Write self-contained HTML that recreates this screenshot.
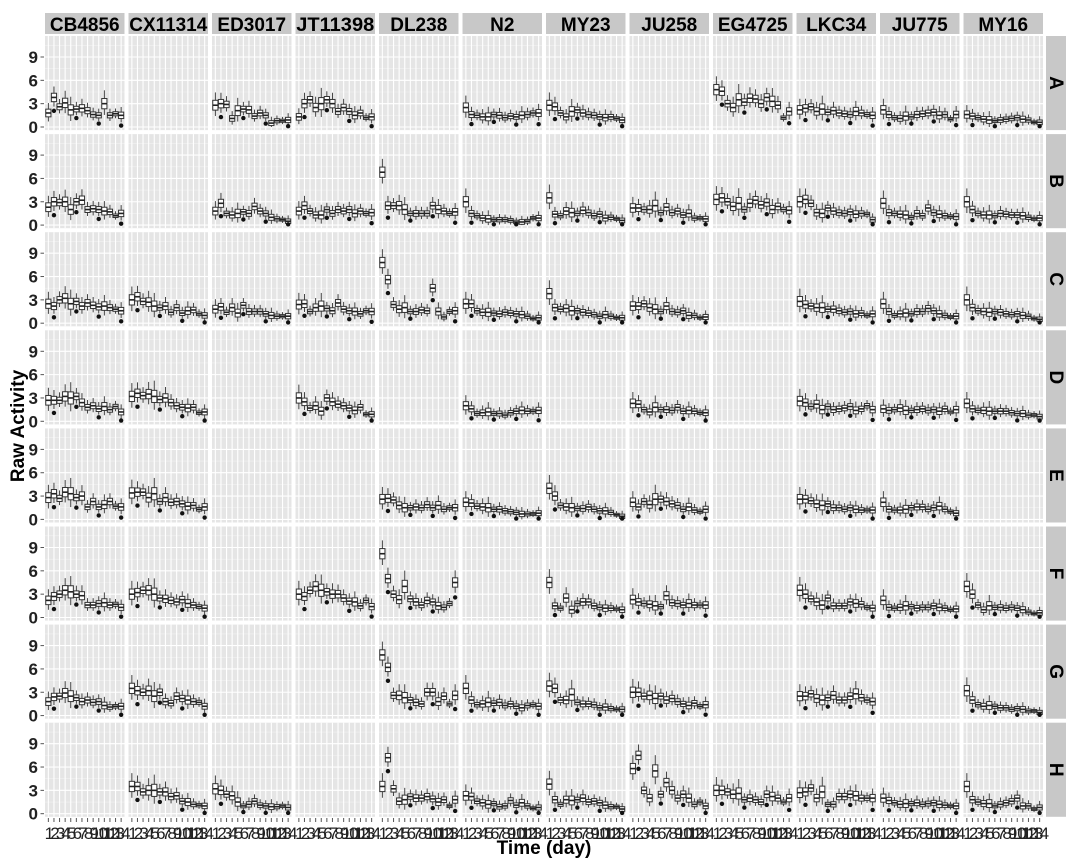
<!DOCTYPE html>
<html><head><meta charset="utf-8">
<style>
html,body{margin:0;padding:0;background:#fff;}
svg{display:block;font-family:"Liberation Sans",Arial,sans-serif;}
</style></head>
<body>
<svg id="chart" width="1080" height="864" viewBox="0 0 1080 864" xmlns="http://www.w3.org/2000/svg">
<text x="544" y="854" font-size="19" font-weight="bold" text-anchor="middle">Time (day)</text>
<text x="24" y="426" font-size="19" font-weight="bold" text-anchor="middle" transform="rotate(-90 24 426)">Raw Activity</text>
</svg>
<script>
const strains = ["CB4856","CX11314","ED3017","JT11398","DL238","N2","MY23","JU258","EG4725","LKC34","JU775","MY16"];
const rowsLab = ["A","B","C","D","E","F","G","H"];
const days = [1,2,3,4,5,6,7,8,9,10,11,12,13,14];
const yTicks = [0,3,6,9];
const medA = {CB4856:[1.8,3.8,2.6,3.1,2.2,2.3,2.4,2.1,1.6,1.5,3.0,1.5,1.7,1.5],ED3017:[2.8,3.0,2.9,1.1,2.1,2.3,2.2,1.4,1.8,1.5,0.5,0.8,0.8,0.9],JT11398:[1.3,3.0,3.5,2.5,3.0,3.5,3.0,2.0,2.5,2.0,1.5,1.8,1.2,1.3],N2:[2.5,1.6,1.5,1.3,1.3,1.6,1.5,1.2,1.4,1.3,1.5,1.6,1.8,1.8],MY23:[2.8,2.6,1.8,1.3,2.0,2.2,1.8,1.6,1.5,1.3,1.2,1.3,1.1,0.9],EG4725:[4.8,4.6,3.0,2.5,3.5,3.2,3.7,3.6,3.0,3.8,3.3,2.8,1.2,2.0],LKC34:[2.2,2.4,2.6,2.0,2.3,1.9,2.1,1.8,1.7,1.6,2.0,1.8,1.6,1.5],JU775:[2.2,1.6,1.2,1.1,1.4,1.3,1.6,1.7,1.8,1.9,1.5,1.6,1.0,1.6],MY16:[1.6,1.4,1.2,1.0,0.9,0.8,0.9,1.0,1.1,1.2,1.0,0.9,0.6,0.6]};
const medB = {CB4856:[2.3,3.0,2.9,3.0,2.0,3.0,3.2,2.0,2.1,2.0,1.8,1.7,1.2,1.5],ED3017:[1.8,2.8,1.5,1.3,1.5,1.7,1.5,2.4,1.8,1.5,1.0,0.8,0.7,0.5],JT11398:[1.8,2.5,1.8,1.3,1.3,2.0,1.5,2.0,1.8,2.0,1.5,1.8,1.5,1.6],DL238:[6.8,2.5,2.5,2.5,2.0,1.5,1.5,1.5,1.5,2.5,2.0,1.8,1.5,1.7],N2:[3.0,1.5,1.2,0.9,0.8,0.7,0.7,0.7,0.6,0.4,0.4,0.5,0.9,0.9],MY23:[3.5,1.4,1.2,1.8,1.6,1.5,1.9,1.6,1.2,1.4,0.9,1.0,0.8,0.6],JU258:[2.2,2.2,2.0,2.0,2.5,1.6,2.3,1.6,1.8,1.3,1.5,0.9,0.9,0.8],EG4725:[3.3,3.5,3.0,2.4,2.8,2.0,2.8,3.2,2.6,2.9,2.0,2.4,2.0,1.9],LKC34:[3.0,3.3,2.8,1.6,1.5,2.2,1.8,1.6,1.5,1.7,1.4,1.5,1.4,0.7],JU775:[2.8,1.6,1.5,1.4,1.3,1.0,1.5,1.2,2.2,1.6,1.4,1.2,1.1,1.1],MY16:[3.0,2.0,1.5,1.3,1.3,1.2,1.5,1.4,1.3,1.3,1.2,1.0,0.8,0.9]};
const medC = {CB4856:[2.5,2.2,3.0,3.2,2.5,2.8,2.2,2.6,2.3,2.1,2.2,2.0,1.8,1.6],CX11314:[3.0,3.4,2.8,2.7,2.2,2.0,2.2,1.4,2.0,1.3,1.6,1.7,1.2,1.0],ED3017:[1.8,2.1,1.4,2.0,1.3,2.3,1.5,1.5,1.5,1.2,1.0,0.9,0.9,0.9],JT11398:[2.4,2.5,1.5,2.0,2.2,1.9,1.6,2.6,1.8,1.6,1.5,1.2,1.6,1.5],DL238:[7.8,5.6,2.4,1.8,2.0,1.5,1.5,1.7,1.6,4.5,1.5,0.8,1.5,1.6],N2:[2.5,2.5,1.6,1.4,1.4,1.3,1.2,1.4,1.3,1.2,1.1,0.9,0.6,0.7],MY23:[3.8,2.0,1.8,1.9,1.6,1.6,1.4,1.3,1.1,0.9,1.1,0.9,0.7,0.7],JU258:[2.2,2.2,2.5,2.0,1.8,1.5,2.2,1.5,1.4,1.6,1.0,1.0,0.7,0.8],LKC34:[2.8,2.4,2.2,2.0,2.0,1.8,1.8,1.6,1.4,1.5,1.2,1.3,1.0,1.2],JU775:[2.5,1.5,1.0,1.2,1.3,1.2,1.5,1.5,1.9,1.6,1.2,1.0,0.8,0.9],MY16:[3.0,2.0,1.6,1.5,1.4,1.5,1.4,1.2,1.1,1.2,1.0,0.9,0.6,0.5]};
const medD = {CB4856:[2.7,2.7,2.7,3.2,3.0,3.2,2.4,1.8,2.0,1.6,1.9,1.5,1.9,1.2],CX11314:[3.2,3.6,3.3,3.5,3.2,2.8,3.0,2.4,2.0,1.8,1.7,1.8,1.1,1.2],JT11398:[3.0,2.5,1.7,2.0,1.3,3.0,2.5,2.2,2.0,1.7,1.4,1.8,0.9,0.9],N2:[2.0,1.6,1.0,1.1,1.2,1.0,1.0,0.8,1.1,1.3,1.4,1.3,1.3,1.4],JU258:[2.3,2.2,1.5,1.2,1.8,1.5,1.5,1.4,1.8,1.3,1.4,1.3,1.1,1.1],LKC34:[2.6,2.4,1.9,2.2,1.5,1.9,1.5,1.6,1.7,1.9,1.4,1.6,2.0,1.5],JU775:[1.6,1.4,1.5,1.7,1.4,1.4,1.5,1.6,1.4,1.5,1.3,1.6,1.2,1.5],MY16:[2.3,1.6,1.4,1.4,1.3,1.3,1.3,1.3,1.1,1.0,1.0,0.8,0.8,0.6]};
const medE = {CB4856:[2.8,3.3,2.7,3.5,3.3,2.8,3.0,1.6,2.3,1.6,1.9,2.3,1.7,1.6],CX11314:[3.4,3.5,3.5,2.8,3.3,2.3,2.8,2.2,2.3,2.0,1.7,1.8,1.3,1.6],DL238:[2.6,2.7,2.5,1.8,1.5,1.5,1.6,1.5,1.9,1.5,1.8,1.3,1.5,1.5],N2:[2.2,2.1,1.7,1.6,1.5,1.3,1.3,1.1,1.0,0.9,0.7,0.7,0.7,0.8],MY23:[4.0,3.0,1.8,1.6,1.5,1.4,1.4,1.6,1.3,1.1,1.1,0.9,0.6,0.4],JU258:[2.2,1.6,2.3,1.9,2.6,2.6,2.3,2.0,1.8,1.3,1.6,1.2,1.0,1.3],LKC34:[2.6,2.6,2.4,2.0,1.8,2.0,1.5,1.5,1.3,1.5,1.3,1.2,1.2,1.2],JU775:[2.2,1.3,1.2,1.2,1.3,1.5,1.6,1.6,1.3,1.5,1.7,1.3,1.0,0.8]};
const medF = {CB4856:[2.2,2.7,3.0,3.5,3.3,3.0,2.8,1.6,1.6,1.8,1.9,1.6,1.7,1.3],CX11314:[3.0,3.2,3.5,3.5,3.0,2.5,2.4,2.2,2.0,2.3,1.8,1.6,1.4,1.2],JT11398:[3.0,2.7,3.5,4.0,3.5,3.3,3.0,3.0,2.5,2.1,2.0,1.5,2.2,1.4],DL238:[8.2,5.0,3.0,2.3,4.0,2.4,2.0,1.6,2.2,2.0,1.5,1.3,1.8,4.5],MY23:[4.5,1.5,1.2,2.5,1.0,1.8,2.0,2.0,1.5,1.3,1.2,1.2,1.1,1.0],JU258:[2.3,2.0,1.8,1.7,1.5,1.4,2.8,1.9,1.8,1.6,1.8,1.6,1.6,1.6],LKC34:[3.5,3.0,2.4,2.0,1.6,2.5,1.5,1.5,1.5,2.0,1.8,1.7,1.3,1.2],JU775:[2.2,1.3,1.2,1.3,1.5,1.4,1.2,1.3,1.3,1.5,1.3,1.2,1.0,1.1],MY16:[4.0,3.0,1.6,1.0,1.5,1.3,1.3,1.2,1.3,1.2,1.0,0.7,0.5,0.6]};
const medG = {CB4856:[1.8,2.4,2.5,2.9,2.5,2.3,1.8,2.0,1.7,1.8,1.3,1.1,1.2,1.2],CX11314:[3.5,3.2,3.0,3.2,2.5,3.0,1.8,1.6,2.5,2.2,2.0,1.8,1.7,1.2],DL238:[7.8,6.2,2.6,2.6,2.3,2.0,1.7,1.5,3.0,3.0,1.8,2.5,1.5,2.6],N2:[3.5,2.0,1.4,1.5,1.7,1.6,1.7,1.3,1.5,1.2,1.0,1.3,1.4,1.2],MY23:[3.8,3.5,2.0,2.0,2.7,1.7,1.5,1.5,1.4,1.0,1.1,0.9,0.8,0.8],JU258:[3.0,3.0,2.5,2.6,2.2,2.5,2.0,2.2,1.8,1.5,1.3,1.6,1.2,1.4],LKC34:[2.5,2.5,2.8,2.2,2.0,2.3,2.6,2.0,2.0,2.5,2.8,2.3,2.0,1.8],MY16:[3.2,2.0,1.4,1.2,1.3,1.2,1.0,1.0,0.8,0.9,0.8,0.6,0.6,0.4]};
const medH = {CX11314:[3.5,3.5,2.8,3.0,3.0,2.8,2.8,2.2,2.3,1.6,1.5,1.2,1.1,1.0],ED3017:[3.2,3.0,2.5,2.3,1.5,1.0,1.2,1.6,1.1,1.0,0.9,0.9,1.0,0.8],DL238:[3.5,7.2,3.2,1.6,1.8,2.2,2.0,2.0,2.2,1.9,1.5,1.8,1.0,1.8],N2:[2.3,2.2,1.6,1.4,1.2,1.3,0.9,1.0,1.7,1.1,1.4,1.0,0.7,0.8],MY23:[3.8,1.8,1.2,1.8,1.7,1.8,2.0,1.5,1.6,1.4,1.1,0.9,0.9,0.6],JU258:[5.8,7.5,3.0,2.0,5.5,2.5,4.0,3.0,2.0,2.5,2.0,1.2,1.5,1.0],EG4725:[3.0,3.0,2.8,2.5,2.6,1.8,2.0,1.8,1.5,2.5,2.2,2.0,1.5,2.0],LKC34:[2.7,2.8,3.3,2.0,2.8,1.2,1.2,2.2,2.2,2.5,2.3,2.0,2.0,2.0],JU775:[2.0,1.7,1.4,1.2,1.3,1.3,1.4,1.2,1.3,1.4,1.2,1.1,1.0,1.0],MY16:[3.5,1.8,1.5,1.3,1.3,1.0,1.2,1.4,1.6,2.0,1.0,1.0,0.6,0.8]};
const iqr = [1.1,0.9,0.7,1.0,1.3,0.7,0.9,0.8,0.8,0.8,1.1,0.8,0.6,1.0];
const medRows = [medA,medB,medC,medD,medE,medF,medG,medH];

const NS="http://www.w3.org/2000/svg";
const svg=document.getElementById('chart');
const PX0=45, PW=79.5, PDX=83.5, PY0=36, PH=94.1, PDY=98.1;
const YMIN=-0.4, YMAX=11.7, XMIN=0.4, XMAX=14.6;
function xs(c,d){return PX0+c*PDX+(d-XMIN)/(XMAX-XMIN)*PW;}
function ys(r,v){return PY0+r*PDY+(YMAX-v)/(YMAX-YMIN)*PH;}
function mk(tag,attrs,parent){const e=document.createElementNS(NS,tag);for(const k in attrs)e.setAttribute(k,attrs[k]);(parent||svg).appendChild(e);return e;}

strains.forEach((s,c)=>{
  const g=mk('g',{});
  
  
  mk('rect',{x:PX0+c*PDX,y:13,width:PW,height:21,fill:'#c8c8c8'},g);
  const t=mk('text',{x:PX0+c*PDX+PW/2,y:31,'font-size':19,'font-weight':'bold','text-anchor':'middle'},g);
  if(s.length>=7){t.setAttribute('textLength',78);t.setAttribute('lengthAdjust','spacingAndGlyphs');}
  t.textContent=s;
});
rowsLab.forEach((l,r)=>{
  const g=mk('g',{});
  
  
  mk('rect',{x:1046,y:PY0+r*PDY,width:20,height:PH,fill:'#c8c8c8'},g);
  const cy=PY0+r*PDY+PH/2, cx=1050;
  const t=mk('text',{x:cx,y:cy,'font-size':19,'font-weight':'bold','text-anchor':'middle',transform:`rotate(90 ${cx} ${cy})`},g);
  t.textContent=l;
});
rowsLab.forEach((l,r)=>{
  yTicks.forEach(v=>{
    const t=mk('text',{x:38,y:ys(r,v)+6,'font-size':17,'font-weight':'bold','text-anchor':'end',fill:'#222'});
    
    
    t.textContent=v;
    mk('line',{x1:40.5,x2:44,y1:ys(r,v),y2:ys(r,v),stroke:'#555','stroke-width':1});
  });
});
strains.forEach((s,c)=>{
  days.forEach(d=>{
    mk('line',{x1:xs(c,d),x2:xs(c,d),y1:818,y2:822,stroke:'#555','stroke-width':1});
    const t=mk('text',{x:xs(c,d),y:839,'font-size':17,'text-anchor':'middle',fill:'#222','letter-spacing':'-2'});
    
    
    t.textContent=d;
  });
});
medRows.forEach((rowObj,r)=>{
  strains.forEach((s,c)=>{
    const g=mk('g',{});
    
    
    const x0=PX0+c*PDX, y0=PY0+r*PDY;
    mk('rect',{x:x0,y:y0,width:PW,height:PH,fill:'#e5e5e5'},g);
    [1.5,4.5,7.5,10.5].forEach(v=>mk('line',{x1:x0,x2:x0+PW,y1:ys(r,v),y2:ys(r,v),stroke:'#f2f2f2','stroke-width':0.6},g));
    yTicks.forEach(v=>mk('line',{x1:x0,x2:x0+PW,y1:ys(r,v),y2:ys(r,v),stroke:'#fff','stroke-width':1.1},g));
    days.forEach(d=>mk('line',{x1:xs(c,d),x2:xs(c,d),y1:y0,y2:y0+PH,stroke:'#fff','stroke-width':1.1},g));
    const med=rowObj[s];
    if(!med) return;
    med.forEach((m,i)=>{
      const q=iqr[i]*Math.min(1.2,0.45+m/4);
      const lo=Math.max(0.05,m-q*0.5), hi=m+q*0.5;
      const wlo=Math.max(0,lo-q*0.6), whi=hi+q*0.8;
      const cx=xs(c,days[i]);
      const b=mk('g',{},g);
      
      
      mk('line',{x1:cx,x2:cx,y1:ys(r,whi),y2:ys(r,wlo),stroke:'#333','stroke-width':0.9},b);
      mk('rect',{x:cx-2.6,y:ys(r,hi),width:5.2,height:Math.max(2,ys(r,lo)-ys(r,hi)),fill:'#fff',stroke:'#333','stroke-width':1},b);
      mk('line',{x1:cx-2.6,x2:cx+2.6,y1:ys(r,m),y2:ys(r,m),stroke:'#222','stroke-width':1.6},b);
      if(i%4===1){
        const dot=mk('circle',{cx:cx,cy:ys(r,Math.max(0.1,lo-q*1.1)),r:2.2,fill:'#111'},b);
        
        
      }
    });
  });
});
</script>
</body></html>
